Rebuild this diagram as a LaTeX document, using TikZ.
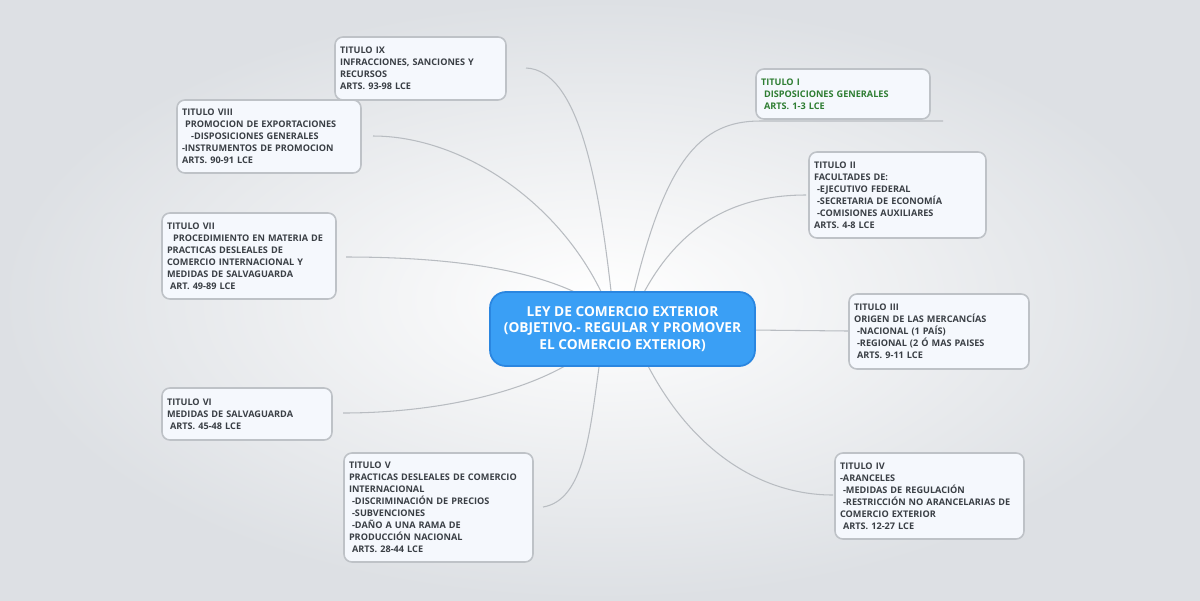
\documentclass[tikz,border=0pt]{standalone}
\usepackage{fontspec}
\setmainfont{Open Sans}
\usetikzlibrary{calc}
\hyphenpenalty=10000
\exhyphenpenalty=10000
\definecolor{bg}{HTML}{DDE0E4}
\definecolor{boxf}{HTML}{F5F8FD}
\definecolor{boxd}{HTML}{BEC2C7}
\definecolor{cf}{HTML}{3A9FF5}
\definecolor{cd}{HTML}{2A86E0}
\definecolor{gr}{HTML}{2E7D32}
\definecolor{tx}{HTML}{3A3F45}
\definecolor{ln}{HTML}{B8BCC1}
\tikzset{
 bx/.style={draw=boxd,fill=boxf,line width=0.9pt,rounded corners=4.5pt,align=left,inner sep=0pt,
   font=\fontsize{5.2}{6.8}\selectfont\bfseries,text=tx},
 conn/.style={draw=ln,line width=0.6pt}
}
\newcommand{\bxn}[6]{%
 \pgfmathsetmacro\tw{(#4-#2)*0.02-0.2}%
 \pgfmathsetmacro\bw{(#4-#2)*0.02}%
 \pgfmathsetmacro\bh{(#5-#3)*0.02}%
 \node[bx,minimum width=\bw cm,minimum height=\bh cm,text width=\tw cm] (#1) at ({(#2+#4)/2+1},{(#3+#5)/2}) {#6};}
\begin{document}
\begin{tikzpicture}[x=0.02cm,y=-0.02cm]
\useasboundingbox (0,0) rectangle (1200,600);
\shade[inner color=white,outer color=bg] (0,0) rectangle (1200,600);
% connectors
\coordinate (e9) at (526,68);
\coordinate (e8) at (373,136);
\coordinate (e7) at (346,257);
\coordinate (e6) at (343,413);
\coordinate (e5) at (543,507);
\coordinate (e1) at (760,121);
\coordinate (e1b) at (943,121);
\coordinate (e2) at (806,195);
\coordinate (e3) at (848,331);
\coordinate (e4) at (833,495);
\coordinate (s9) at (612,300);
\coordinate (s8) at (605,300);
\coordinate (s7) at (590,300);
\coordinate (s6) at (575,360);
\coordinate (s5) at (600,360);
\coordinate (s1) at (632,300);
\coordinate (s2) at (640,300);
\coordinate (s3) at (750,330);
\coordinate (s4) at (645,360);
\draw[conn] (s9) .. controls (600,190) and (580,70) .. (e9);
\draw[conn] (s8) .. controls (560,200) and (460,136) .. (e8);
\draw[conn] (s7) .. controls (530,265) and (430,257) .. (e7);
\draw[conn] (s6) .. controls (520,395) and (430,413) .. (e6);
\draw[conn] (s5) .. controls (590,430) and (585,500) .. (e5);
\draw[conn] (s1) .. controls (665,160) and (700,121) .. (e1) -- (e1b);
\draw[conn] (s2) .. controls (680,220) and (740,195) .. (e2);
\draw[conn] (s3) -- (e3);
\draw[conn] (s4) .. controls (690,450) and (760,495) .. (e4);
% center
\node[draw=cd,fill=cf,line width=1pt,rounded corners=9pt,minimum width=5.3cm,minimum height=1.48cm,
 align=center,text=white,font=\fontsize{7.8}{9.6}\selectfont\bfseries] (c) at (622.5,329)
 {LEY DE COMERCIO EXTERIOR\\(OBJETIVO.- REGULAR Y PROMOVER\\EL COMERCIO EXTERIOR)};
% boxes
\bxn{t9}{334}{37}{505}{100}{TITULO IX\\INFRACCIONES, SANCIONES Y\\RECURSOS\\ARTS. 93-98 LCE}
\bxn{t8}{176}{100}{360}{173}{TITULO VIII\\\ PROMOCION DE EXPORTACIONES\\\ \ \ -DISPOSICIONES GENERALES\\-INSTRUMENTOS DE PROMOCION\\ARTS. 90-91 LCE}
\bxn{t7}{161}{213}{335}{299}{TITULO VII\\\ \ PROCEDIMIENTO EN MATERIA DE\\PRACTICAS DESLEALES DE\\COMERCIO INTERNACIONAL Y\\MEDIDAS DE SALVAGUARDA\\\ ART. 49-89 LCE}
\bxn{t6}{161}{388}{331}{440}{TITULO VI\\MEDIDAS DE SALVAGUARDA\\\ ARTS. 45-48 LCE}
\bxn{t5}{343}{453}{532}{562}{TITULO V\\PRACTICAS DESLEALES DE COMERCIO\\INTERNACIONAL\\\ -DISCRIMINACIÓN DE PRECIOS\\\ -SUBVENCIONES\\\ -DAÑO A UNA RAMA DE\\PRODUCCIÓN NACIONAL\\\ ARTS. 28-44 LCE}
\bxn{t1}{755}{69}{929}{119}{\textcolor{gr}{TITULO I\\\ DISPOSICIONES GENERALES\\\ ARTS. 1-3 LCE}}
\bxn{t2}{808}{152}{985}{238}{TITULO II\\FACULTADES DE:\\\ -EJECUTIVO FEDERAL\\\ -SECRETARIA DE ECONOMÍA\\\ -COMISIONES AUXILIARES\\ARTS. 4-8 LCE}
\bxn{t3}{848}{294}{1028}{369}{TITULO III\\ORIGEN DE LAS MERCANCÍAS\\\ -NACIONAL (1 PAÍS)\\\ -REGIONAL (2 Ó MAS PAISES\\\ ARTS. 9-11 LCE}
\bxn{t4}{834}{453}{1023}{539}{TITULO IV\\-ARANCELES\\\ -MEDIDAS DE REGULACIÓN\\\ -RESTRICCIÓN NO ARANCELARIAS DE\\COMERCIO EXTERIOR\\\ ARTS. 12-27 LCE}
\end{tikzpicture}
\end{document}
